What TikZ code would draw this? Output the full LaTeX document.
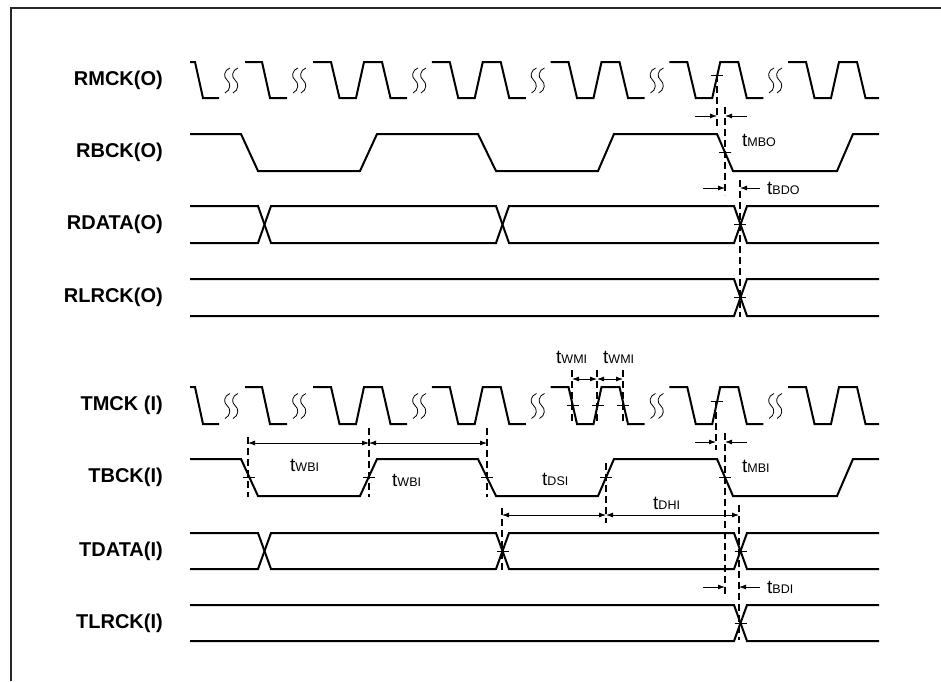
\documentclass[tikz,border=0pt]{standalone}
\usepackage{fontspec}
\setmainfont{Liberation Sans}
\usetikzlibrary{arrows.meta}
\tikzset{
 sig/.style={line width=2pt, line join=miter, black},
 dsh/.style={line width=1.8pt, dash pattern=on 7pt off 4pt},
 tickm/.style={line width=0.8pt},
 dimb/.style={line width=0.8pt, {Latex[length=7pt,width=5pt]}-{Latex[length=7pt,width=5pt]}},
 dimr/.style={line width=0.8pt, -{Latex[length=7pt,width=5pt]}},
 lbl/.style={font=\fontsize{20}{24}\selectfont\bfseries, anchor=east, inner sep=0pt},
 tl/.style={anchor=west, inner sep=0pt},
 sq/.style={line width=0.8pt},
}
\newcommand{\tlab}[1]{{\fontsize{19}{22}\selectfont t}{\fontsize{12.5}{14}\selectfont #1}}
\newcommand{\mckgrp}[4]{\draw[sig] ({#1},#2) -- ({#1+18},#2) -- ({#1+26.5},#3) -- ({#1+43},#3) -- ({#1+51},#2) -- ({#1+69},#2) -- ({#1+77.5},#3) -- ({#4},#3);}
\newcommand{\sqone}[2]{%
 \draw[sq] ({#1+6},{#2-12}) .. controls ({#1},{#2-10}) and ({#1-1},{#2-3}) .. ({#1+3},{#2}) .. controls ({#1+7},{#2+3}) and ({#1+7},{#2+10}) .. ({#1+1},{#2+13});}
\newcommand{\sqg}[2]{\sqone{#1}{#2}\sqone{#1+8}{#2}}
\newcommand{\clockrow}[3]{%
 \draw[sig] (190,#1) -- (195,#1) -- (203,#2) -- (219,#2);
 \sqg{224}{#3}
 \draw[sig] (245,#1) -- (262,#1) -- (270,#2) -- (287,#2);
 \sqg{292}{#3}
 \mckgrp{313}{#1}{#2}{407}
 \sqg{412}{#3}
 \mckgrp{431.75}{#1}{#2}{525.75}
 \sqg{530.5}{#3}
 \mckgrp{550.5}{#1}{#2}{644.5}
 \sqg{649.5}{#3}
 \mckgrp{669.25}{#1}{#2}{763.25}
 \sqg{768}{#3}
 \mckgrp{788}{#1}{#2}{879}}
\begin{document}
\begin{tikzpicture}[x=1pt,y=-1pt]
\useasboundingbox (0,0) rectangle (941,681);
% frame
\draw[line width=1.5pt, black!85] (11,681) -- (11,8) -- (941,8);

% labels
\node[lbl] (lrmck) at (163,80) {RMCK(O)};
\node[lbl] (lrbck) at (163,152.5) {RBCK(O)};
\node[lbl] (lrdata) at (163,224.5) {RDATA(O)};
\node[lbl] (lrlrck) at (163,297.5) {RLRCK(O)};
\node[lbl] (ltmck) at (163,405.5) {TMCK (I)};
\node[lbl] (ltbck) at (163,477.5) {TBCK(I)};
\node[lbl] (ltdata) at (163,551) {TDATA(I)};
\node[lbl] (ltlrck) at (163,623) {TLRCK(I)};

% clocks
\clockrow{62}{98}{80}
\clockrow{387}{424}{405.5}

% bit clocks
\draw[sig] (190,134) -- (241,134) -- (258,171) -- (360,171) -- (377,134) -- (478,134) -- (496,171) -- (598,171) -- (614,134) -- (717,134) -- (733,171) -- (837,171) -- (853,134) -- (879,134);
\draw[sig] (190,459) -- (241,459) -- (258,496) -- (360,496) -- (377,459) -- (478,459) -- (496,496) -- (598,496) -- (614,459) -- (717,459) -- (733,496) -- (837,496) -- (853,459) -- (879,459);

% data buses
\draw[sig] (190,206) -- (258,206) -- (271,243) -- (496,243) -- (509,206) -- (734,206) -- (747,243) -- (879,243);
\draw[sig] (190,243) -- (258,243) -- (271,206) -- (496,206) -- (509,243) -- (734,243) -- (747,206) -- (879,206);
\draw[sig] (190,279) -- (734,279) -- (747,316) -- (879,316);
\draw[sig] (190,316) -- (734,316) -- (747,279) -- (879,279);
\draw[sig] (190,533) -- (258,533) -- (271,569) -- (496,569) -- (509,533) -- (734,533) -- (747,569) -- (879,569);
\draw[sig] (190,569) -- (258,569) -- (271,533) -- (496,533) -- (509,569) -- (734,569) -- (747,533) -- (879,533);
\draw[sig] (190,605) -- (734,605) -- (747,641) -- (879,641);
\draw[sig] (190,641) -- (734,641) -- (747,605) -- (879,605);

% ticks
\foreach \x/\y in {717/75, 725/152.5, 740/224.5, 740/297.5, 572.5/405.5, 597.5/405.5, 623/405.5, 716.5/401, 249/477.5, 369/477.5, 487/477.5, 606/477.5, 725/477.5, 502.5/551, 740.5/551, 740.5/623}
  \draw[tickm] (\x-6,\y) -- (\x+6,\y);

% dashed reference lines
\coordinate (d1t) at (717,75);   \coordinate (d1b) at (717,127);
\coordinate (d2t) at (725,107);  \coordinate (d2b) at (725,195);
\coordinate (d3t) at (740,180);  \coordinate (d3b) at (740,317);
\coordinate (d4t) at (248,437);  \coordinate (d4b) at (248,497);
\coordinate (d5t) at (369,428);  \coordinate (d5b) at (369,497);
\coordinate (d6t) at (487,428);  \coordinate (d6b) at (487,497);
\coordinate (w1t) at (572,370);  \coordinate (w1b) at (572,423);
\coordinate (w2t) at (597,370);  \coordinate (w2b) at (597,423);
\coordinate (w3t) at (623,370);  \coordinate (w3b) at (623,423);
\coordinate (d8t) at (716,401);  \coordinate (d8b) at (716,450);
\coordinate (d9t) at (725,433);  \coordinate (d9b) at (725,597);
\coordinate (d10t) at (606,463); \coordinate (d10b) at (606,523);
\coordinate (d11t) at (502,508); \coordinate (d11b) at (502,570);
\coordinate (d12t) at (739,505); \coordinate (d12b) at (739,640);
\foreach \n in {d1,d2,d3,d4,d5,d6,w1,w2,w3,d8,d9,d10,d11,d12}
  \draw[dsh] (\n t) -- (\n b);

% dimension arrows
\coordinate (mboL) at (695,116); \coordinate (mboR) at (747,116);
\draw[dimr] (mboL) -- (mboL -| d1t);
\draw[dimr] (mboR) -- (mboR -| d2t);
\coordinate (bdoL) at (703,188); \coordinate (bdoR) at (760,188);
\draw[dimr] (bdoL) -- (bdoL -| d2t);
\draw[dimr] (bdoR) -- (bdoR -| d3t);
\coordinate (wmiy) at (0,379);
\draw[dimb] (wmiy -| w1t) -- (wmiy -| w2t);
\draw[dimb] (wmiy -| w2t) -- (wmiy -| w3t);
\coordinate (wbiy) at (0,443);
\draw[dimb] (wbiy -| d4t) -- (wbiy -| d5t);
\draw[dimb] (wbiy -| d5t) -- (wbiy -| d6t);
\coordinate (mbiL) at (695,442); \coordinate (mbiR) at (747,442);
\draw[dimr] (mbiL) -- (mbiL -| d8t);
\draw[dimr] (mbiR) -- (mbiR -| d9t);
\coordinate (dsy) at (0,515);
\draw[dimb] (dsy -| d11t) -- (dsy -| d10t);
\draw[dimb] (dsy -| d10t) -- (dsy -| d12t);
\coordinate (bdiL) at (703,587); \coordinate (bdiR) at (760,587);
\draw[dimr] (bdiL) -- (bdiL -| d9t);
\draw[dimr] (bdiR) -- (bdiR -| d12t);

% timing labels
\node[tl] (tmbo) at (742,140) {\tlab{MBO}};
\node[tl] (tbdo) at (767,188) {\tlab{BDO}};
\node[tl] (twmi1) at (556,357) {\tlab{WMI}};
\node[tl] (twmi2) at (603,357) {\tlab{WMI}};
\node[tl] (twbi1) at (290,465) {\tlab{WBI}};
\node[tl] (twbi2) at (392,480) {\tlab{WBI}};
\node[tl] (tmbi) at (742,466) {\tlab{MBI}};
\node[tl] (tdsi) at (542,479) {\tlab{DSI}};
\node[tl] (tdhi) at (653,503) {\tlab{DHI}};
\node[tl] (tbdi) at (767,587) {\tlab{BDI}};
\end{tikzpicture}
\end{document}
